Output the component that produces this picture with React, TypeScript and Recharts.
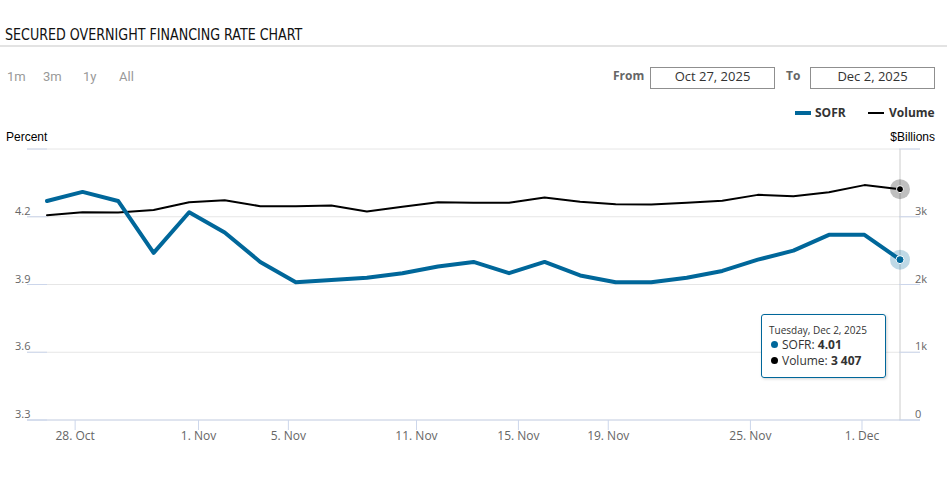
import React from 'react';
import { ComposedChart, Line, XAxis, YAxis, CartesianGrid, Tooltip } from 'recharts';

// Business days shown (Nov 11 and Nov 27 are market holidays)
const dates = [
  '2025-10-27', '2025-10-28', '2025-10-29', '2025-10-30', '2025-10-31',
  '2025-11-03', '2025-11-04', '2025-11-05', '2025-11-06', '2025-11-07',
  '2025-11-10', '2025-11-12', '2025-11-13', '2025-11-14', '2025-11-17',
  '2025-11-18', '2025-11-19', '2025-11-20', '2025-11-21', '2025-11-24',
  '2025-11-25', '2025-11-26', '2025-11-28', '2025-12-01', '2025-12-02',
];

// SOFR, percent
const sofr = [
  4.27, 4.31, 4.27, 4.04, 4.22,
  4.13, 4.0, 3.91, 3.92, 3.93,
  3.95, 3.98, 4.0, 3.95, 4.0,
  3.94, 3.91, 3.91, 3.93, 3.96,
  4.01, 4.05, 4.12, 4.12, 4.01,
];

// Volume, $ billions
const volume = [
  3022, 3066, 3062, 3101, 3215,
  3244, 3156, 3156, 3166, 3077,
  3146, 3215, 3205, 3205, 3284,
  3220, 3185, 3180, 3205, 3235,
  3323, 3304, 3363, 3467, 3407,
];

// x-axis tick dates (ordinal axis)
const tickDates = ['2025-10-28', '2025-11-01', '2025-11-05', '2025-11-11', '2025-11-15', '2025-11-19', '2025-11-25', '2025-12-01'];

const leftTicks = [3.3, 3.6, 3.9, 4.2, 4.5];
const rightTicks = [0, 1000, 2000, 3000, 4000];

const rangeButtons = ['1m', '3m', '1y', 'All'];
const fromDate = 'Oct 27, 2025';
const toDate = 'Dec 2, 2025';

const MONTHS = ['Jan', 'Feb', 'Mar', 'Apr', 'May', 'Jun', 'Jul', 'Aug', 'Sep', 'Oct', 'Nov', 'Dec'];
const DAYS = ['Sunday', 'Monday', 'Tuesday', 'Wednesday', 'Thursday', 'Friday', 'Saturday'];

const SOFR_COLOR = '#00679a';

const data = dates.map((d, i) => ({ i, date: d, sofr: sofr[i], volume: volume[i] }));

// ordinal positions of tick dates between data points (data stamped at NY midnight)
const dataTimes = dates.map((d) => Date.parse(d + 'T05:00:00Z'));
const tickPositions = tickDates.map((td) => {
  const t = Date.parse(td + 'T00:00:00Z');
  for (let k = 0; k < dataTimes.length - 1; k++) {
    if (t >= dataTimes[k] && t < dataTimes[k + 1]) {
      return k + (t - dataTimes[k]) / (dataTimes[k + 1] - dataTimes[k]);
    }
  }
  return 0;
});
const tickLabels = tickDates.map((td) => {
  const dt = new Date(td + 'T00:00:00Z');
  return `${dt.getUTCDate()}. ${MONTHS[dt.getUTCMonth()]}`;
});

const fmtX = (v: number) => {
  let best = 0;
  tickPositions.forEach((p, k) => {
    if (Math.abs(p - v) < Math.abs(tickPositions[best] - v)) best = k;
  });
  return tickLabels[best];
};

const LeftTick = (props: any) => {
  const { x, y, payload } = props;
  const v = payload.value;
  return (
    <g>
      <line x1={x} x2={x + 20} y1={y} y2={y} stroke="#ccd6eb" strokeWidth={1} />
      {v < 4.45 && (
        <text x={x - 12} y={y - 2} fill="#666" fontSize={11} fontFamily="'Open Sans', sans-serif">
          {v.toFixed(1)}
        </text>
      )}
    </g>
  );
};

const RightTick = (props: any) => {
  const { x, y, payload } = props;
  const v = payload.value;
  return (
    <g>
      <line x1={x - 21} x2={x} y1={y} y2={y} stroke="#ccd6eb" strokeWidth={1} />
      {v < 3500 && (
        <text x={x - 5} y={y - 2} fill="#666" fontSize={11} fontFamily="'Open Sans', sans-serif">
          {v === 0 ? '0' : `${v / 1000}k`}
        </text>
      )}
    </g>
  );
};

const fmtThousands = (n: number) => String(Math.round(n)).replace(/\B(?=(\d{3})+(?!\d))/g, ' ');

const fmtLongDate = (d: string) => {
  const dt = new Date(d + 'T00:00:00Z');
  return `${DAYS[dt.getUTCDay()]}, ${MONTHS[dt.getUTCMonth()]} ${dt.getUTCDate()}, ${dt.getUTCFullYear()}`;
};

const TipContent = (props: any) => {
  const { active, payload } = props;
  if (!active || !payload || !payload.length) return null;
  const row = payload[0].payload;
  const bullet = (c: string) => (
    <span
      style={{
        display: 'inline-block',
        width: 7,
        height: 7,
        borderRadius: '50%',
        background: c,
        marginLeft: 2,
        marginRight: 4,
        verticalAlign: 'middle',
        position: 'relative',
        top: -1,
      }}
    />
  );
  return (
    <div
      style={{
        width: 125,
        height: 64,
        boxSizing: 'border-box',
        border: `1px solid ${SOFR_COLOR}`,
        borderRadius: 3,
        background: 'rgba(255,255,255,0.96)',
        boxShadow: '1px 1px 3px rgba(0,0,0,0.18)',
        padding: '8px 0 0 7px',
        fontFamily: "'Open Sans', sans-serif",
        color: '#333',
        whiteSpace: 'nowrap',
      }}
    >
      <div style={{ fontSize: 10, lineHeight: '14px' }}>{fmtLongDate(row.date)}</div>
      <div style={{ fontSize: 12, lineHeight: '16px' }}>
        {bullet(SOFR_COLOR)}SOFR: <b>{row.sofr.toFixed(2)}</b>
      </div>
      <div style={{ fontSize: 12, lineHeight: '16px' }}>
        {bullet('#000')}Volume: <b>{fmtThousands(row.volume)}</b>
      </div>
    </div>
  );
};

const SofrDot = (p: any) => (
  <g>
    <circle cx={p.cx} cy={p.cy} r={10} fill={SOFR_COLOR} fillOpacity={0.25} />
    <circle cx={p.cx} cy={p.cy} r={4} fill={SOFR_COLOR} stroke="#fff" strokeWidth={1} />
  </g>
);

const VolDot = (p: any) => (
  <g>
    <circle cx={p.cx} cy={p.cy} r={10} fill="#000" fillOpacity={0.25} />
    <circle cx={p.cx} cy={p.cy} r={3.5} fill="#000" stroke="#fff" strokeWidth={1} />
  </g>
);

const abs = (s: React.CSSProperties): React.CSSProperties => ({ position: 'absolute', whiteSpace: 'nowrap', ...s });

const rangeLefts = [7, 43, 83, 119];

export default function App() {
  return (
    <div style={{ position: 'absolute', left: 0, top: 0, width: 947, height: 483, background: '#fff', overflow: 'hidden' }}>
      <div
        style={abs({
          left: 5,
          top: 25,
          fontFamily: "'Liberation Sans Narrow', 'DejaVu Sans Condensed', 'Arial Narrow', sans-serif",
          fontSize: 15,
          lineHeight: '20px',
          color: '#111',
          transform: 'scaleX(0.94)',
          transformOrigin: 'left center',
        })}
      >
        SECURED OVERNIGHT FINANCING RATE CHART
      </div>
      <div style={abs({ left: 0, top: 45, width: 947, height: 2, background: '#e3e3e3' })} />

      {rangeButtons.map((b, k) => (
        <div
          key={b}
          style={abs({ left: rangeLefts[k], top: 69, fontFamily: 'Roboto, sans-serif', fontSize: 13, lineHeight: '16px', color: '#999' })}
        >
          {b}
        </div>
      ))}

      <div style={abs({ left: 613, top: 68, fontFamily: "'Open Sans', sans-serif", fontWeight: 700, fontSize: 12, lineHeight: '16px', color: '#666' })}>
        From
      </div>
      <div
        style={abs({
          left: 650,
          top: 67,
          width: 125,
          height: 22,
          boxSizing: 'border-box',
          border: '1px solid #8f8f8f',
          textAlign: 'center',
          fontFamily: "'Open Sans', sans-serif",
          fontSize: 13,
          lineHeight: '16px',
          color: '#333',
        })}
      >
        {fromDate}
      </div>
      <div style={abs({ left: 786, top: 68, fontFamily: "'Open Sans', sans-serif", fontWeight: 700, fontSize: 12, lineHeight: '16px', color: '#666' })}>
        To
      </div>
      <div
        style={abs({
          left: 810,
          top: 67,
          width: 125,
          height: 22,
          boxSizing: 'border-box',
          border: '1px solid #8f8f8f',
          textAlign: 'center',
          fontFamily: "'Open Sans', sans-serif",
          fontSize: 13,
          lineHeight: '16px',
          color: '#333',
        })}
      >
        {toDate}
      </div>

      {/* legend */}
      <div style={abs({ left: 795, top: 111, width: 16, height: 4, background: SOFR_COLOR })} />
      <div style={abs({ left: 815, top: 105, fontFamily: "'Open Sans', sans-serif", fontWeight: 700, fontSize: 12, lineHeight: '16px', color: '#333' })}>
        SOFR
      </div>
      <div style={abs({ left: 868, top: 112, width: 16, height: 2, background: '#000' })} />
      <div style={abs({ left: 889, top: 105, fontFamily: "'Open Sans', sans-serif", fontWeight: 700, fontSize: 12, lineHeight: '16px', color: '#333' })}>
        Volume
      </div>

      <div style={abs({ left: 6, top: 130, fontFamily: "'Liberation Sans', Arial, sans-serif", fontSize: 12, lineHeight: '14px', color: '#000' })}>
        Percent
      </div>
      <div style={abs({ right: 12, top: 130, fontFamily: "'Liberation Sans', Arial, sans-serif", fontSize: 12, lineHeight: '14px', color: '#000' })}>
        $Billions
      </div>

      <div style={abs({ left: 0, top: 0 })}>
        <ComposedChart width={947} height={483} data={data} margin={{ top: 149, right: 0, bottom: 33, left: 0 }}>
          <CartesianGrid yAxisId="left" horizontal vertical={false} stroke="#e6e6e6" />
          <XAxis
            dataKey="i"
            type="number"
            domain={[0, dates.length - 1]}
            padding={{ left: 20, right: 20 }}
            ticks={tickPositions}
            tickFormatter={fmtX}
            interval={0}
            height={30}
            axisLine={{ stroke: '#ccd6eb' }}
            tickLine={{ stroke: '#ccd6eb' }}
            tickSize={10}
            tickMargin={1}
            tick={{ fill: '#666', fontSize: 12, fontFamily: "'Open Sans', sans-serif" }}
          />
          <YAxis
            yAxisId="left"
            orientation="left"
            width={27}
            domain={[3.3, 4.5]}
            ticks={leftTicks}
            interval={0}
            axisLine={false}
            tickLine={false}
            tickSize={0}
            tickMargin={0}
            tick={<LeftTick />}
          />
          <YAxis
            yAxisId="right"
            orientation="right"
            width={27}
            domain={[0, 4000]}
            ticks={rightTicks}
            interval={0}
            axisLine={false}
            tickLine={false}
            tickSize={0}
            tickMargin={0}
            tick={<RightTick />}
          />
          <Tooltip
            defaultIndex={dates.length - 1}
            active={true}
            isAnimationActive={false}
            position={{ x: 761, y: 314 }}
            cursor={{ stroke: '#cccccc', strokeWidth: 1 }}
            content={<TipContent />}
            wrapperStyle={{ outline: 'none' }}
          />
          <Line
            yAxisId="right"
            type="linear"
            dataKey="volume"
            name="Volume"
            stroke="#000"
            strokeWidth={2}
            strokeLinejoin="round"
            strokeLinecap="round"
            dot={false}
            activeDot={VolDot}
            isAnimationActive={false}
          />
          <Line
            yAxisId="left"
            type="linear"
            dataKey="sofr"
            name="SOFR"
            stroke={SOFR_COLOR}
            strokeWidth={4}
            strokeLinejoin="round"
            strokeLinecap="round"
            dot={false}
            activeDot={SofrDot}
            isAnimationActive={false}
          />
        </ComposedChart>
      </div>
    </div>
  );
}
